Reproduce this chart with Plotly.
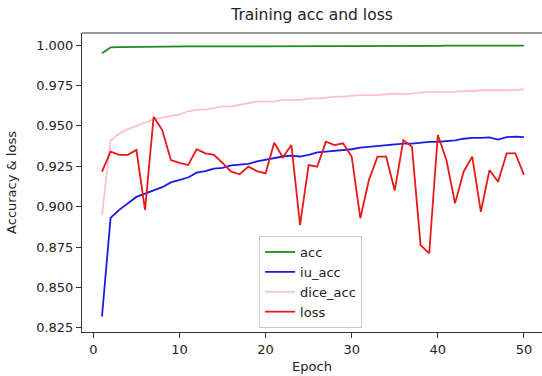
import plotly.graph_objects as go

epochs = list(range(1, 51))

acc = [0.9949, 0.9985, 0.9987, 0.9988, 0.9988, 0.9989, 0.9989, 0.9990, 0.9990, 0.9990,
       0.9991, 0.9991, 0.9991, 0.9991, 0.9992, 0.9992, 0.9992, 0.9992, 0.9992, 0.9993,
       0.9993, 0.9993, 0.9993, 0.9993, 0.9993, 0.9994, 0.9994, 0.9994, 0.9994, 0.9994,
       0.9994, 0.9994, 0.9995, 0.9995, 0.9995, 0.9995, 0.9995, 0.9995, 0.9995, 0.9995,
       0.9996, 0.9996, 0.9996, 0.9996, 0.9996, 0.9996, 0.9996, 0.9996, 0.9996, 0.9996]

iu_acc = [0.832, 0.893, 0.898, 0.902, 0.906, 0.908, 0.910, 0.912, 0.915, 0.9165,
          0.918, 0.921, 0.922, 0.9235, 0.924, 0.9255, 0.926, 0.9265, 0.928, 0.929,
          0.930, 0.931, 0.9315, 0.931, 0.932, 0.9335, 0.934, 0.9345, 0.935, 0.9355,
          0.9365, 0.937, 0.9375, 0.938, 0.9385, 0.939, 0.939, 0.9395, 0.940, 0.940,
          0.9405, 0.941, 0.942, 0.9425, 0.9425, 0.9428, 0.9415, 0.943, 0.9433, 0.943]

dice_acc = [0.8948, 0.941, 0.945, 0.948, 0.950, 0.952, 0.954, 0.955, 0.956, 0.957,
            0.959, 0.960, 0.960, 0.961, 0.962, 0.962, 0.963, 0.964, 0.965, 0.965,
            0.965, 0.966, 0.966, 0.966, 0.967, 0.967, 0.9675, 0.968, 0.968, 0.9685,
            0.969, 0.969, 0.969, 0.9695, 0.970, 0.9695, 0.970, 0.9705, 0.971, 0.971,
            0.971, 0.9712, 0.9715, 0.9715, 0.972, 0.9718, 0.972, 0.972, 0.9722, 0.9725]

loss = [0.9216, 0.934, 0.932, 0.932, 0.935, 0.898, 0.9556, 0.9474, 0.9288, 0.927,
        0.9257, 0.9355, 0.933, 0.932, 0.927, 0.9216, 0.920, 0.9247, 0.922, 0.9206,
        0.9395, 0.9305, 0.9381, 0.8886, 0.9257, 0.9247, 0.9402, 0.9381, 0.9392, 0.9309,
        0.8928, 0.9165, 0.9309, 0.9309, 0.910, 0.9412, 0.937, 0.8762, 0.8711, 0.9443,
        0.9288, 0.902, 0.9216, 0.9309, 0.8968, 0.9226, 0.9154, 0.933, 0.933, 0.9196]

y_ticks = [0.825, 0.850, 0.875, 0.900, 0.925, 0.950, 0.975, 1.000]
y_tick_labels = ["0.825", "0.850", "0.875", "0.900", "0.925", "0.950", "0.975", "1.000"]
x_ticks = [0, 10, 20, 30, 40, 50]

FONT = "DejaVu Sans"

fig = go.Figure()
series = [("acc", acc, "#1f8a1f"), ("iu_acc", iu_acc, "#1a1ae6"),
          ("dice_acc", dice_acc, "#ffc0cb"), ("loss", loss, "#e81818")]
for name, vals, color in series:
    fig.add_trace(go.Scatter(x=epochs, y=vals, mode="lines", name=name,
                             line=dict(color=color, width=1.8)))

fig.update_layout(
    width=542, height=376,
    margin=dict(l=82, r=0, t=33, b=44),
    paper_bgcolor="white", plot_bgcolor="white",
    font=dict(family=FONT, size=13, color="#222"),
    title=dict(text="Training acc and loss", x=0.5, xref="paper", xanchor="center",
               y=1 - 15 / 376, yref="container", yanchor="middle",
               font=dict(size=15.5, color="#222")),
    showlegend=True,
    legend=dict(x=0.385, y=0.321, xanchor="left", yanchor="top",
                bgcolor="rgba(255,255,255,0.8)", bordercolor="#cccccc", borderwidth=1,
                font=dict(size=13), tracegroupgap=0),
)
fig.update_xaxes(range=[-1.32, 52.1], tickvals=x_ticks, ticks="outside", ticklen=5,
                 tickcolor="#333", showline=True, linecolor="#333", linewidth=1,
                 mirror=False, showgrid=False, zeroline=False,
                 title=dict(text="Epoch", standoff=6, font=dict(size=13)))
fig.update_yaxes(range=[0.8224, 1.00743], tickvals=y_ticks, ticktext=y_tick_labels,
                 ticks="outside", ticklen=5, tickcolor="#333", showline=True,
                 linecolor="#333", linewidth=1, showgrid=False, zeroline=False,
                 title=dict(text="Accuracy &amp; loss", standoff=16, font=dict(size=13)))
# top spine
fig.add_shape(type="line", xref="paper", yref="paper", x0=0, x1=1, y0=1, y1=1,
              line=dict(color="#333", width=1))

fig.write_html("out.html", config={"displayModeBar": False},
               post_script="document.body.style.margin='0';")
